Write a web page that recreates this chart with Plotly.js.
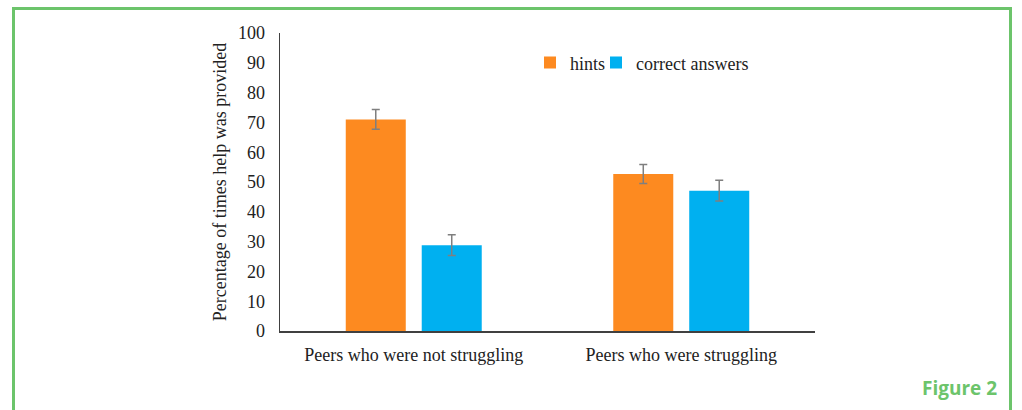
<!DOCTYPE html>
<html>
<head>
<meta charset="utf-8">
<script src="https://cdn.plot.ly/plotly-3.0.1.min.js"></script>
<style>
  html, body { margin: 0; padding: 0; background: #fff; }
  #frame { position: absolute; left: 12px; top: 7px; width: 1000px; height: 420px;
           border: 3px solid #6cc46b; border-bottom: none; box-sizing: border-box; }
  #chart { position: absolute; left: 0; top: 0; width: 1022px; height: 410px; }
</style>
</head>
<body>
<div id="frame"></div>
<div id="chart"></div>
<script>
const categories = ["Peers who were not struggling", "Peers who were struggling"];
const seriesNames = ["hints", "correct answers"];
const hintsValues = [71.0, 52.7];
const hintsErrors = [3.3, 3.2];
const correctValues = [28.8, 47.1];
const correctErrors = [3.5, 3.5];
const yTicks = [0, 10, 20, 30, 40, 50, 60, 70, 80, 90, 100];

const errStyle = { type: 'data', visible: true, color: '#7f7f7f', thickness: 1.5, width: 4 };

const traces = [
  { type: 'bar', name: seriesNames[0], x: categories, y: hintsValues,
    marker: { color: '#fd8a20' }, legend: 'legend',
    error_y: Object.assign({ array: hintsErrors }, errStyle) },
  { type: 'bar', name: seriesNames[1], x: categories, y: correctValues,
    marker: { color: '#00b0f0' }, legend: 'legend2',
    error_y: Object.assign({ array: correctErrors }, errStyle) }
];

const legendBase = { orientation: 'h', xanchor: 'left', yanchor: 'top', y: 0.962,
                     font: { size: 18, color: '#222' }, bgcolor: 'rgba(0,0,0,0)', itemwidth: 30 };

const layout = {
  width: 1022, height: 410,
  margin: { l: 280, r: 207, t: 33, b: 79 },
  paper_bgcolor: 'rgba(0,0,0,0)', plot_bgcolor: 'rgba(0,0,0,0)',
  font: { family: '"Liberation Serif", "Times New Roman", serif', size: 18, color: '#222' },
  barmode: 'group', bargap: 0.432, bargroupgap: 0.21,
  showlegend: true,
  legend: Object.assign({}, legendBase, { x: (530 - 280) / 535 }),
  legend2: Object.assign({}, legendBase, { x: (596 - 280) / 535 }),
  xaxis: { type: 'category', range: [-0.5, 1.5], showline: true, linecolor: '#404040', linewidth: 1.5,
           ticks: '', showgrid: false, zeroline: false, ticklabelstandoff: 7, fixedrange: true },
  yaxis: { range: [0, 100], tickvals: yTicks, ticktext: yTicks.map(String), showline: true,
           linecolor: '#404040', linewidth: 1.5, ticks: '', showgrid: false, zeroline: false,
           ticklabelstandoff: 10, automargin: false,
           title: { text: 'Percentage of times help was provided', font: { size: 18 }, standoff: 6 } },
  annotations: [
    { text: '<b>Figure 2</b>', xref: 'paper', yref: 'paper',
      x: (999 - 280) / 535, y: (331 - 388) / 298, xanchor: 'right', yanchor: 'middle',
      showarrow: false, font: { family: '"Open Sans", "Noto Sans", sans-serif', size: 19, color: '#6cc46b' } }
  ]
};

Plotly.newPlot('chart', traces, layout, { displayModeBar: false, staticPlot: true });
</script>
</body>
</html>
